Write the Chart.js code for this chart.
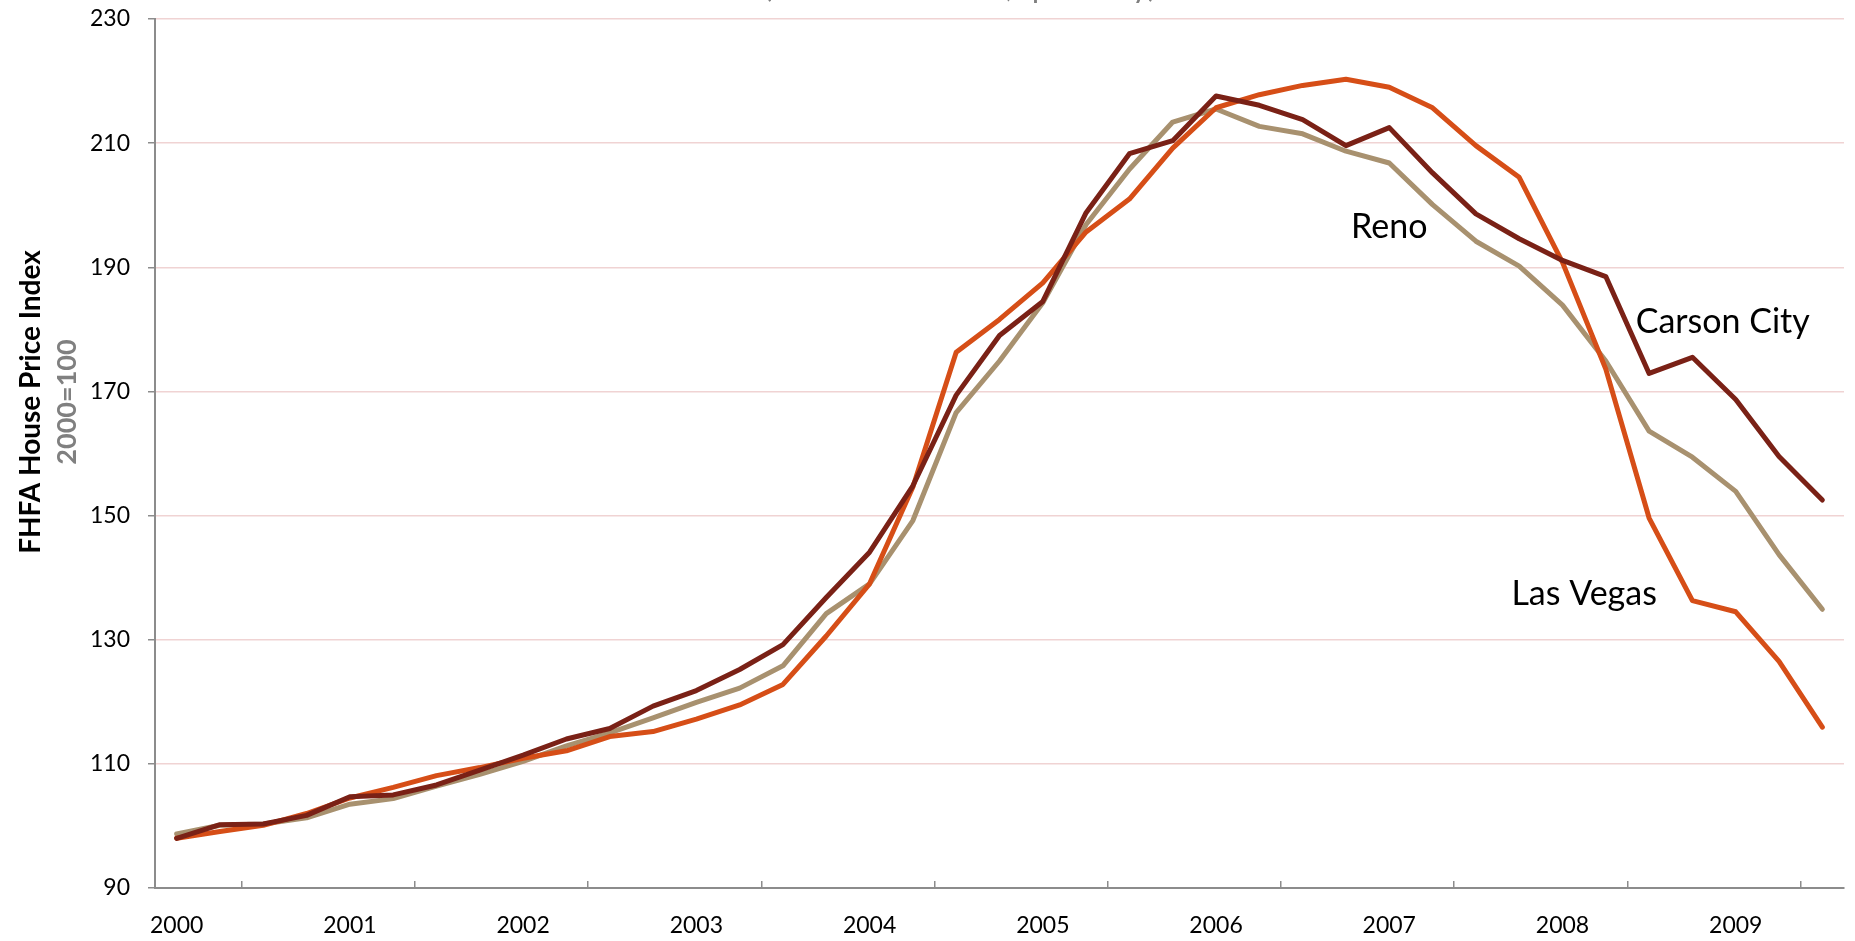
<!DOCTYPE html>
<html>
<head>
<meta charset="utf-8">
<script src="https://cdn.jsdelivr.net/npm/chart.js@4.4.1/dist/chart.umd.min.js"></script>
<style>
  html, body { margin: 0; padding: 0; background: #fff; }
  #wrap { width: 1855px; height: 941px; }
</style>
</head>
<body>
<div id="wrap"><canvas id="graph1" width="1855" height="941"></canvas></div>
<script>
// quarterly FHFA house price index, 2000 = 100
var quarters = [
  "2000 Q1", "2000 Q2", "2000 Q3", "2000 Q4",
  "2001 Q1", "2001 Q2", "2001 Q3", "2001 Q4",
  "2002 Q1", "2002 Q2", "2002 Q3", "2002 Q4",
  "2003 Q1", "2003 Q2", "2003 Q3", "2003 Q4",
  "2004 Q1", "2004 Q2", "2004 Q3", "2004 Q4",
  "2005 Q1", "2005 Q2", "2005 Q3", "2005 Q4",
  "2006 Q1", "2006 Q2", "2006 Q3", "2006 Q4",
  "2007 Q1", "2007 Q2", "2007 Q3", "2007 Q4",
  "2008 Q1", "2008 Q2", "2008 Q3", "2008 Q4",
  "2009 Q1", "2009 Q2", "2009 Q3"
];

var lasVegas = [98.0, 99.1, 100.1, 102.0, 104.5, 106.2, 108.1, 109.4, 110.9, 112.1,
  114.4, 115.2, 117.2, 119.5, 122.8, 130.6, 139.0, 154.6, 176.3, 181.6,
  187.5, 195.7, 201.0, 209.2, 215.7, 217.8, 219.3, 220.3, 219.0, 215.7,
  209.6, 204.5, 190.8, 173.6, 149.6, 136.3, 134.5, 126.5, 115.9];

var reno = [98.7, 100.1, 100.3, 101.3, 103.5, 104.4, 106.4, 108.3, 110.4, 112.9,
  115.0, 117.4, 119.9, 122.2, 125.8, 134.2, 139.0, 149.2, 166.6, 174.9,
  184.3, 196.9, 205.8, 213.4, 215.5, 212.7, 211.5, 208.7, 206.8, 200.1,
  194.2, 190.2, 183.9, 174.9, 163.6, 159.4, 153.9, 143.7, 134.9];

var carsonCity = [98.0, 100.2, 100.3, 101.7, 104.7, 105.0, 106.6, 109.0, 111.4, 114.0,
  115.7, 119.3, 121.8, 125.2, 129.2, 136.8, 144.1, 154.8, 169.4, 179.0,
  184.5, 198.8, 208.3, 210.4, 217.6, 216.1, 213.8, 209.6, 212.5, 205.2,
  198.6, 194.6, 191.1, 188.5, 172.9, 175.5, 168.7, 159.5, 152.5];

var yTicks = [90, 110, 130, 150, 170, 190, 210, 230];

// series names written next to the lines (quarter index, index value)
var lineNames = ["Reno", "Carson City", "Las Vegas"];
var nameAt = [28, 35.7, 32.5];
var nameValue = [196.5, 181.1, 137.3];

var axisTitle = "FHFA House Price Index";
var axisSubtitle = "2000=100";
var chartSubtitle = "(Index 2000=100, quarterly)";

Chart.defaults.font.family = "Lato";

var extraText = {
  id: "extraText",
  afterDraw: function (chart) {
    var ctx = chart.ctx;
    var xs = chart.scales.x, ys = chart.scales.y;
    ctx.save();

    // subtitle, mostly cut off at the top edge
    ctx.fillStyle = "#7f7f7f";
    ctx.font = "32px Lato";
    ctx.textAlign = "center";
    ctx.textBaseline = "alphabetic";
    ctx.fillText(chartSubtitle, 960, -3);

    // names next to the lines
    ctx.fillStyle = "#000";
    ctx.font = "34px Lato";
    ctx.textBaseline = "middle";
    for (var i = 0; i < lineNames.length; i++) {
      ctx.fillText(lineNames[i], xs.getPixelForValue(nameAt[i]), ys.getPixelForValue(nameValue[i]));
    }

    // rotated y axis title
    ctx.translate(0, 402);
    ctx.rotate(-Math.PI / 2);
    ctx.font = "bold 28px Lato";
    ctx.fillStyle = "#000";
    ctx.fillText(axisTitle, 0, 31);
    ctx.font = "bold 27px Lato";
    ctx.fillStyle = "#808080";
    ctx.fillText(axisSubtitle, 0, 67);
    ctx.restore();
  }
};

new Chart(document.getElementById("graph1"), {
  type: "line",
  data: {
    labels: quarters,
    datasets: [
      { label: "Carson City", data: carsonCity, borderColor: "#7a2116", order: 1 },
      { label: "Las Vegas", data: lasVegas, borderColor: "#d64e17", order: 2 },
      { label: "Reno", data: reno, borderColor: "#a8916f", order: 3 }
    ]
  },
  options: {
    responsive: false,
    devicePixelRatio: 1,
    animation: false,
    layout: { padding: { top: 19, right: 11, left: 0, bottom: 0 } },
    elements: {
      line: { borderWidth: 5, tension: 0, borderCapStyle: "round", borderJoinStyle: "round" },
      point: { radius: 0 }
    },
    plugins: {
      legend: { display: false },
      tooltip: { enabled: false }
    },
    scales: {
      x: {
        offset: true,
        grid: {
          offset: true,
          drawOnChartArea: false,
          tickLength: -7,
          lineWidth: 1.5,
          tickColor: function (c) { return c.index % 4 === 2 ? "#8c8c8c" : "rgba(0,0,0,0)"; }
        },
        border: { color: "#8c8c8c", width: 2 },
        ticks: {
          autoSkip: false,
          maxRotation: 0,
          padding: 31,
          color: "#000",
          font: { size: 23 },
          callback: function (v, i) { return i % 4 === 0 ? quarters[i].slice(0, 4) : ""; }
        },
        afterFit: function (s) { s.height = 53; }
      },
      y: {
        min: yTicks[0],
        max: yTicks[yTicks.length - 1],
        afterBuildTicks: function (s) { s.ticks = yTicks.map(function (v) { return { value: v }; }); },
        grid: { color: "#f0d3d3", lineWidth: 1.5, tickColor: "#8c8c8c", tickLength: 7 },
        border: { color: "#8c8c8c", width: 2 },
        ticks: { padding: 18, color: "#000", font: { size: 23 } },
        afterFit: function (s) { s.width = 155; s.paddingTop = 0; s.paddingBottom = 0; }
      }
    }
  },
  plugins: [extraText]
});
</script>
</body>
</html>
